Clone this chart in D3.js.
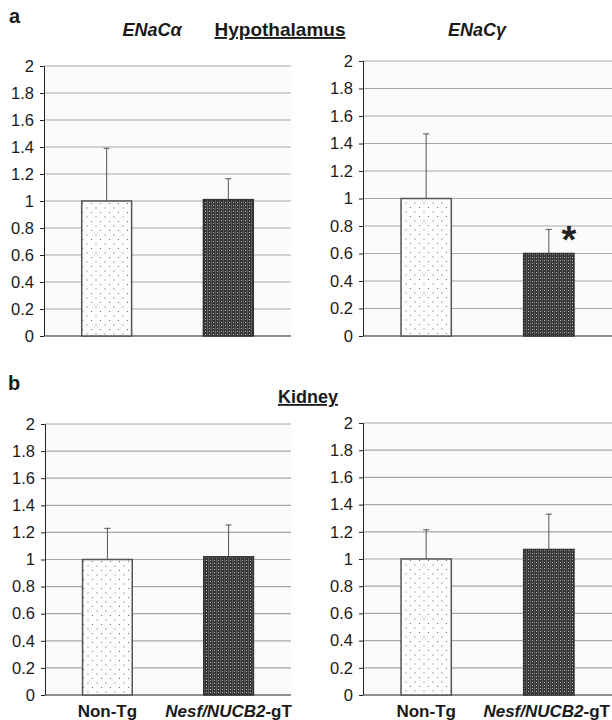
<!DOCTYPE html>
<html>
<head>
<meta charset="utf-8">
<script src="https://cdn.jsdelivr.net/npm/d3@7"></script>
<style>
  body { margin: 0; background: #fff; }
  text { font-family: "Liberation Sans", Arial, sans-serif; }
  .tick text { font-size: 16.5px; fill: #1a1a1a; }
</style>
</head>
<body>
<script>
// Data (relative expression, mean + SD)
var groups = ["Non-Tg", "Nesf/NUCB2-gT"];
var yTicks = [0, 0.2, 0.4, 0.6, 0.8, 1, 1.2, 1.4, 1.6, 1.8, 2];

var hypoAlpha = [1.00, 1.01],
    hypoAlphaErr = [0.39, 0.155];
var hypoGamma = [1.00, 0.60],
    hypoGammaErr = [0.47, 0.175];
var kidAlpha = [1.00, 1.02],
    kidAlphaErr = [0.23, 0.235];
var kidGamma = [1.00, 1.07],
    kidGammaErr = [0.215, 0.26];
var hypoGammaSig = [false, true];

var width = 612, height = 720;

var svg = d3.select("body")
    .append("svg")
    .attr("width", width)
    .attr("height", height);

// fill patterns: dotted (Non-Tg) and dark mesh (transgenic)
var defs = svg.append("defs");
var dots = defs.append("pattern")
    .attr("id", "dots")
    .attr("patternUnits", "userSpaceOnUse")
    .attr("width", 9).attr("height", 9);
dots.append("rect").attr("width", 9).attr("height", 9).attr("fill", "#fdfdfd");
dots.append("rect").attr("x", 2).attr("y", 2).attr("width", 1).attr("height", 1).attr("fill", "#666");
dots.append("rect").attr("x", 6.5).attr("y", 6.5).attr("width", 1).attr("height", 1).attr("fill", "#666");

var mesh = defs.append("pattern")
    .attr("id", "mesh")
    .attr("patternUnits", "userSpaceOnUse")
    .attr("width", 4).attr("height", 3);
mesh.append("rect").attr("width", 4).attr("height", 3).attr("fill", "#353535");
mesh.append("rect").attr("x", 1).attr("y", 1).attr("width", 1).attr("height", 1).attr("fill", "#bdbdbd");
mesh.append("rect").attr("x", 3).attr("y", 0).attr("width", 1).attr("height", 3).attr("fill", "#5e5e5e");

var fills = ["url(#dots)", "url(#mesh)"];

function panel(left, top, right, bottom, values, errs, sig) {
    var g = svg.append("g")
        .attr("transform", "translate(" + left + "," + top + ")");
    var w = right - left,
        h = bottom - top;

    var x = d3.scaleBand()
        .domain(groups)
        .range([0, w])
        .paddingInner(0.59)
        .paddingOuter(0.31);

    var y = d3.scaleLinear()
        .domain([0, 2])
        .range([h, 0]);

    // plot background + gridlines
    g.append("rect")
        .attr("width", w).attr("height", h)
        .attr("fill", "#fbfbfb");

    g.selectAll(".grid")
        .data(yTicks.filter(function(d) { return d > 0; }))
        .enter().append("line")
        .attr("class", "grid")
        .attr("x1", 0).attr("x2", w)
        .attr("y1", function(d) { return y(d); })
        .attr("y2", function(d) { return y(d); })
        .attr("stroke", "#a8a8a8")
        .attr("stroke-width", 1.2);

    var yAxis = d3.axisLeft(y)
        .tickValues(yTicks)
        .tickSize(4)
        .tickPadding(6)
        .tickFormat(function(d) { return d3.format("")(+d.toFixed(1)); });

    var ax = g.append("g").attr("class", "y axis").call(yAxis);
    ax.select(".domain").attr("stroke", "#222").attr("d", "M-4,0.5H0.5V" + h);
    ax.selectAll(".tick line").attr("stroke", "#222");

    // baseline
    g.append("line")
        .attr("x1", 0).attr("x2", w)
        .attr("y1", h).attr("y2", h)
        .attr("stroke", "#222").attr("stroke-width", 1.2);

    var idx = d3.range(groups.length);

    // error bars (upper only)
    g.selectAll(".err")
        .data(idx)
        .enter().append("line")
        .attr("class", "err")
        .attr("x1", function(i) { return x(groups[i]) + x.bandwidth() / 2; })
        .attr("x2", function(i) { return x(groups[i]) + x.bandwidth() / 2; })
        .attr("y1", function(i) { return y(values[i]); })
        .attr("y2", function(i) { return y(values[i] + errs[i]); })
        .attr("stroke", "#555").attr("stroke-width", 1);

    g.selectAll(".cap")
        .data(idx)
        .enter().append("line")
        .attr("class", "cap")
        .attr("x1", function(i) { return x(groups[i]) + x.bandwidth() / 2 - 3; })
        .attr("x2", function(i) { return x(groups[i]) + x.bandwidth() / 2 + 3; })
        .attr("y1", function(i) { return y(values[i] + errs[i]); })
        .attr("y2", function(i) { return y(values[i] + errs[i]); })
        .attr("stroke", "#555").attr("stroke-width", 1);

    g.selectAll(".bar")
        .data(idx)
        .enter().append("rect")
        .attr("class", "bar")
        .attr("x", function(i) { return x(groups[i]); })
        .attr("y", function(i) { return y(values[i]); })
        .attr("width", x.bandwidth())
        .attr("height", function(i) { return h - y(values[i]); })
        .attr("fill", function(i) { return fills[i]; })
        .attr("stroke", function(i) { return i == 0 ? "#555" : "#333"; })
        .attr("stroke-width", 1.5);

    if (sig) {
        g.selectAll(".star")
            .data(idx.filter(function(i) { return sig[i]; }))
            .enter().append("text")
            .attr("class", "star")
            .attr("x", function(i) { return x(groups[i]) + x.bandwidth() / 2 + 20; })
            .attr("y", function(i) { return y(values[i] + errs[i]) + 24; })
            .attr("text-anchor", "middle")
            .style("font-size", "38px")
            .style("font-weight", "bold")
            .attr("fill", "#222")
            .text("*");
    }

    return { x: x, g: g, h: h, left: left };
}

var tl = panel(44, 66, 291, 336, hypoAlpha, hypoAlphaErr);
var tr = panel(363, 61, 612, 336, hypoGamma, hypoGammaErr, hypoGammaSig);
var bl = panel(45, 424, 291, 695, kidAlpha, kidAlphaErr);
var br = panel(363, 423, 612, 695, kidGamma, kidGammaErr);

// category labels under the kidney panels
[bl, br].forEach(function(p) {
    p.g.selectAll(".xlab")
        .data(groups)
        .enter().append("text")
        .attr("class", "xlab")
        .attr("x", function(d) { return p.x(d) + p.x.bandwidth() / 2; })
        .attr("y", p.h + 22)
        .attr("text-anchor", "middle")
        .style("font-size", "17px")
        .style("font-weight", "bold")
        .attr("fill", "#1a1a1a")
        .each(function(d) {
            var t = d3.select(this);
            var k = d.indexOf("-gT");
            if (k > 0) {
                t.append("tspan").style("font-style", "italic").text(d.slice(0, k));
                t.append("tspan").text(d.slice(k));
            } else {
                t.text(d);
            }
            // keep the label inside the page
            var len = this.getComputedTextLength();
            var cx = +t.attr("x");
            var over = p.left + cx + len / 2 - (width - 2);
            if (over > 0) t.attr("x", cx - over);
        });
});

// panel letters and titles
function title(txt, x, y, opts) {
    var t = svg.append("text")
        .attr("x", x).attr("y", y)
        .attr("text-anchor", opts.anchor || "middle")
        .style("font-size", (opts.size || 18) + "px")
        .style("font-weight", "bold")
        .style("font-style", opts.italic ? "italic" : "normal")
        .style("text-decoration", opts.underline ? "underline" : "none")
        .attr("fill", "#1a1a1a")
        .text(txt);
    return t;
}

title("a", 9, 23, { anchor: "start", size: 20 });
title("ENaC\u03b1", 152, 36, { italic: true });
title("Hypothalamus", 280, 36, { underline: true, size: 19 });
title("ENaC\u03b3", 477, 36, { italic: true });

title("b", 8, 390, { anchor: "start", size: 20 });
title("Kidney", 308, 403, { underline: true });
</script>
</body>
</html>
